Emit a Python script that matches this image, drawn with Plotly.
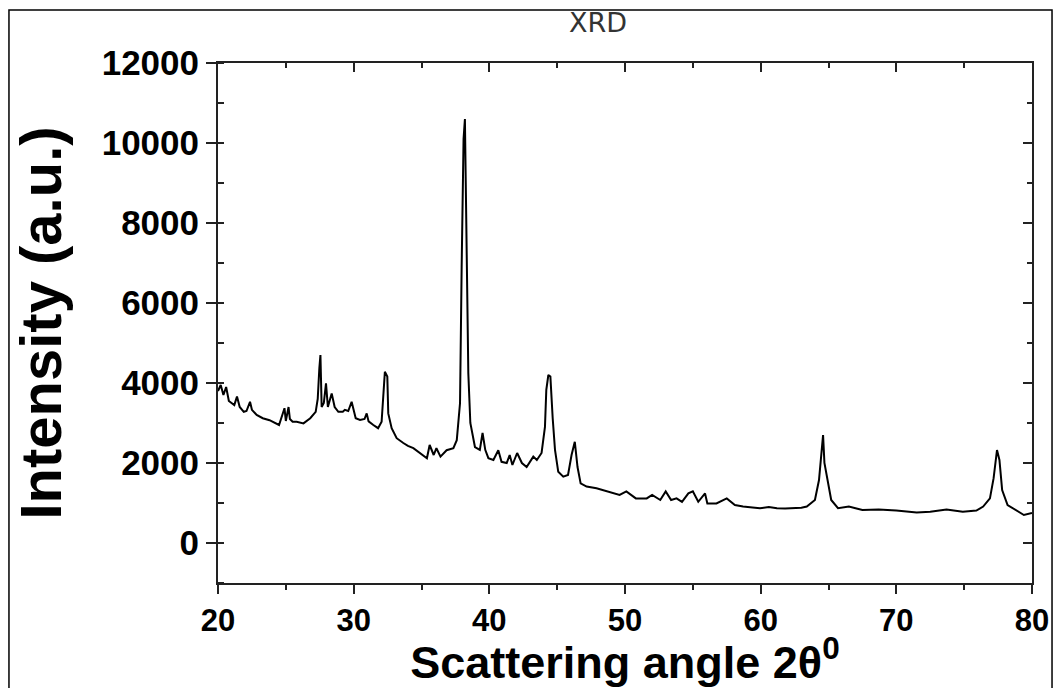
import plotly.graph_objects as go

# XRD pattern (2-theta in degrees, intensity in a.u.)
two_theta = [
    20.0, 20.2, 20.4, 20.6, 20.8, 21.0, 21.2, 21.4, 21.6, 21.9,
    22.1, 22.36, 22.5, 22.85, 23.3, 23.8, 24.2, 24.5, 24.9, 25.0,
    25.2, 25.3, 25.5, 25.8, 26.3, 26.8, 27.2, 27.35, 27.47, 27.55,
    27.64, 27.8, 27.96, 28.1, 28.38, 28.6, 28.87, 29.2, 29.35, 29.6,
    29.85, 30.15, 30.47, 30.8, 30.96, 31.1, 31.45, 31.8, 32.06, 32.18,
    32.3, 32.48, 32.55, 32.8, 33.17, 33.66, 34.0, 34.4, 34.9, 35.4,
    35.6, 35.9, 36.1, 36.4, 36.85, 37.35, 37.6, 37.84, 37.96, 38.1,
    38.2, 38.3, 38.45, 38.6, 38.7, 38.94, 39.3, 39.5, 39.7, 39.93,
    40.3, 40.66, 40.9, 41.28, 41.5, 41.7, 42.05, 42.4, 42.75, 43.24,
    43.5, 43.85, 44.1, 44.2, 44.35, 44.5, 44.67, 44.84, 45.08, 45.45,
    45.8, 46.06, 46.3, 46.5, 46.73, 47.17, 47.9, 48.65, 49.1, 49.6,
    50.1, 50.8, 51.6, 52.0, 52.6, 53.0, 53.4, 53.8, 54.2, 54.67,
    55.0, 55.4, 55.9, 56.07, 56.74, 57.5, 58.1, 58.7, 59.4, 59.95,
    60.6, 61.2, 61.8, 62.4, 63.0, 63.4, 64.0, 64.3, 64.48, 64.6,
    64.7, 65.0, 65.2, 65.7, 66.5, 67.5, 68.7, 70.0, 71.5, 72.5,
    73.7, 74.9, 75.9, 76.4, 76.9, 77.17, 77.42, 77.6, 77.8, 78.2,
    78.8, 79.4, 80.0,
]
intensity = [
    3800, 3950, 3700, 3900, 3550, 3500, 3450, 3660, 3400, 3280,
    3300, 3530, 3330, 3200, 3120, 3070, 3000, 2950, 3370, 3050,
    3400, 3100, 3030, 3030, 2990, 3120, 3280, 3600, 4370, 4700,
    3400, 3500, 3990, 3400, 3740, 3400, 3280, 3280, 3330, 3300,
    3530, 3120, 3075, 3100, 3240, 3040, 2950, 2870, 3030, 3740,
    4280, 4160, 3240, 2870, 2620, 2500, 2430, 2370, 2250, 2120,
    2450, 2200, 2370, 2160, 2320, 2370, 2570, 3500, 6900, 10100,
    10600, 8400, 4250, 3000, 2800, 2400, 2330, 2750, 2330, 2120,
    2075, 2320, 2030, 2000, 2200, 1950, 2250, 2000, 1900, 2160,
    2075, 2250, 2900, 3830, 4200, 4160, 3120, 2330, 1780, 1660,
    1700, 2200, 2530, 1900, 1490, 1410, 1370, 1290, 1250, 1200,
    1290, 1115, 1115, 1200, 1075, 1290, 1075, 1115, 1030, 1240,
    1290, 1030, 1240, 990, 990, 1115, 950, 910, 890, 870,
    900, 870, 860, 870, 880, 910, 1075, 1575, 2250, 2700,
    2000, 1410, 1075, 870, 910, 825, 840, 810, 760, 780,
    840, 780, 810, 910, 1115, 1620, 2325, 2075, 1325, 950,
    825, 700, 750,
]

FONT = "Arial, Liberation Sans, sans-serif"

fig = go.Figure()
fig.add_trace(go.Scatter(x=two_theta, y=intensity, mode="lines",
                         line=dict(color="black", width=2), showlegend=False))
# same data on the mirrored axes so the top/right frame gets its own inward ticks
fig.add_trace(go.Scatter(x=two_theta, y=intensity, mode="lines", xaxis="x2", yaxis="y2",
                         line=dict(color="rgba(0,0,0,0)", width=0), hoverinfo="skip",
                         showlegend=False))

axis_common = dict(showline=True, linecolor="#222", linewidth=2, showgrid=False,
                   zeroline=False, tickcolor="#222", tickwidth=2, automargin=False)

# page body has an 8px margin, so the figure sits 8px in from the window's top-left
fig.update_layout(
    width=1053, height=680,
    margin=dict(l=210, r=29, t=55, b=105),
    paper_bgcolor="white", plot_bgcolor="white",
    title=dict(text="XRD", xref="paper", x=0.467, xanchor="center", y=0.978, yanchor="middle",
               font=dict(family="DejaVu Sans, sans-serif", size=27, color="#333")),
    xaxis=dict(range=[20, 80], dtick=10, tick0=20, ticks="outside", ticklen=9,
               minor=dict(dtick=5, ticks="outside", ticklen=5, tickcolor="#222", tickwidth=2),
               tickfont=dict(family=FONT, size=31, color="black", weight="bold"),
               title=dict(text="Scattering angle 2θ<sup>0</sup>", standoff=31,
                          font=dict(family=FONT, size=45, color="black", weight="bold")),
               **axis_common),
    yaxis=dict(range=[-1000, 12000], dtick=2000, tick0=0, ticks="outside", ticklen=10,
               tickformat="d",
               minor=dict(dtick=1000, ticks="inside", ticklen=6, tickcolor="#222", tickwidth=2),
               tickfont=dict(family=FONT, size=35, color="black", weight="bold"),
               title=dict(text="Intensity (a.u.)", standoff=22,
                          font=dict(family=FONT, size=58, color="black", weight="bold")),
               **axis_common),
    xaxis2=dict(overlaying="x", side="top", matches="x", ticks="inside", ticklen=9,
                dtick=10, tick0=20, showticklabels=False,
                minor=dict(dtick=5, ticks="inside", ticklen=5, tickcolor="#222", tickwidth=2),
                **axis_common),
    yaxis2=dict(overlaying="y", side="right", matches="y", ticks="inside", ticklen=9,
                dtick=2000, tick0=0, showticklabels=False,
                minor=dict(dtick=1000, ticks="inside", ticklen=5, tickcolor="#222", tickwidth=2),
                **axis_common),
)

# thin frame around the whole picture, as in the source figure
fig.add_shape(type="rect", xref="paper", yref="paper", x0=-0.2568, x1=1.0246, y0=-0.4, y1=1.1019,
              line=dict(color="black", width=1.5), fillcolor="rgba(0,0,0,0)", layer="below")

fig.write_html("out.html")
